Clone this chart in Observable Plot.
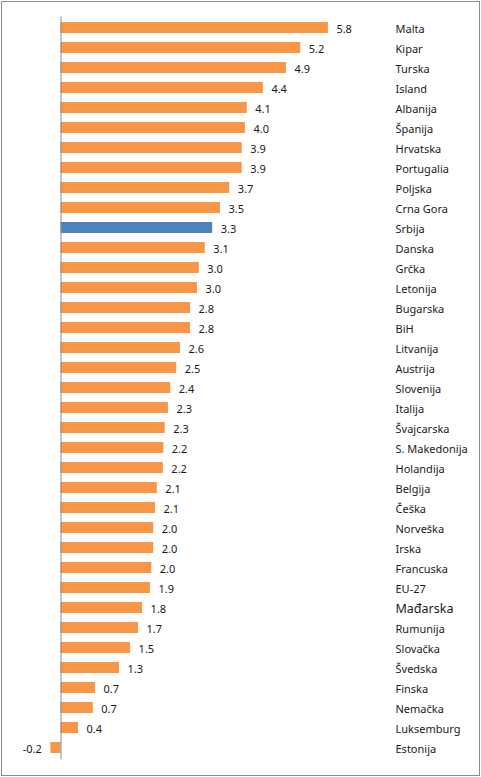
<!DOCTYPE html>
<html>
<head>
<meta charset="utf-8">
<script src="https://cdn.jsdelivr.net/npm/d3@7"></script>
<script src="https://cdn.jsdelivr.net/npm/@observablehq/plot@0.6"></script>
<style>
  html, body { margin: 0; padding: 0; background: #fff; }
  #chart svg { display: block; outline: 1px solid #8a8a8a; outline-offset: -2px; }
</style>
</head>
<body>
<div id="chart"></div>
<script>
const countries = ["Malta","Kipar","Turska","Island","Albanija","Španija","Hrvatska","Portugalia","Poljska","Crna Gora","Srbija","Danska","Grčka","Letonija","Bugarska","BiH","Litvanija","Austrija","Slovenija","Italija","Švajcarska","S. Makedonija","Holandija","Belgija","Češka","Norveška","Irska","Francuska","EU-27","Mađarska","Rumunija","Slovačka","Švedska","Finska","Nemačka","Luksemburg","Estonija"];
const values = [5.80,5.20,4.89,4.39,4.04,4.00,3.93,3.93,3.66,3.46,3.29,3.13,3.00,2.96,2.81,2.81,2.59,2.51,2.38,2.33,2.26,2.23,2.22,2.09,2.05,2.01,2.01,1.97,1.94,1.77,1.68,1.51,1.27,0.75,0.70,0.38,-0.22];
const labels = ["5.8","5.2","4.9","4.4","4.1","4.0","3.9","3.9","3.7","3.5","3.3","3.1","3.0","3.0","2.8","2.8","2.6","2.5","2.4","2.3","2.3","2.2","2.2","2.1","2.1","2.0","2.0","2.0","1.9","1.8","1.7","1.5","1.3","0.7","0.7","0.4","-0.2"];
const highlight = "Srbija";

const data = countries.map((c, i) => ({country: c, value: values[i], label: labels[i]}));

const chart = Plot.plot({
  width: 481,
  height: 777,
  marginLeft: 60.5,
  marginRight: 86,
  marginTop: 16.5,
  marginBottom: 18,
  style: {fontFamily: "'Noto Sans', 'DejaVu Sans', sans-serif", background: "#fff"},
  x: {domain: [0, 6], range: [60.5, 60.5 + 6 * 46.1], axis: null},
  y: {domain: countries, paddingInner: 0.45, paddingOuter: 0.225, label: null},
  marks: [
    Plot.barX(data, {
      y: "country", x1: 0, x2: "value",
      fill: d => d.country === highlight ? "#4F81BD" : "#F79646"
    }),
    Plot.ruleX([0], {stroke: "#8a8a8a", strokeWidth: 1}),
    Plot.text(data.filter(d => d.value >= 0), {
      y: "country", x: "value", text: "label", dx: 8, dy: 1,
      textAnchor: "start", fontSize: 11, fill: "#1a1a1a"
    }),
    Plot.text(data.filter(d => d.value < 0), {
      y: "country", x: "value", text: "label", dx: -9, dy: 1,
      textAnchor: "end", fontSize: 11, fill: "#1a1a1a"
    }),
    Plot.axisY({
      anchor: "right", tickSize: 0, tickPadding: 0, label: null,
      fontSize: d => d === "Mađarska" ? 12.5 : 11,
      fill: "#1a1a1a", dy: 1
    })
  ]
});
document.getElementById("chart").appendChild(chart);
</script>
</body>
</html>
